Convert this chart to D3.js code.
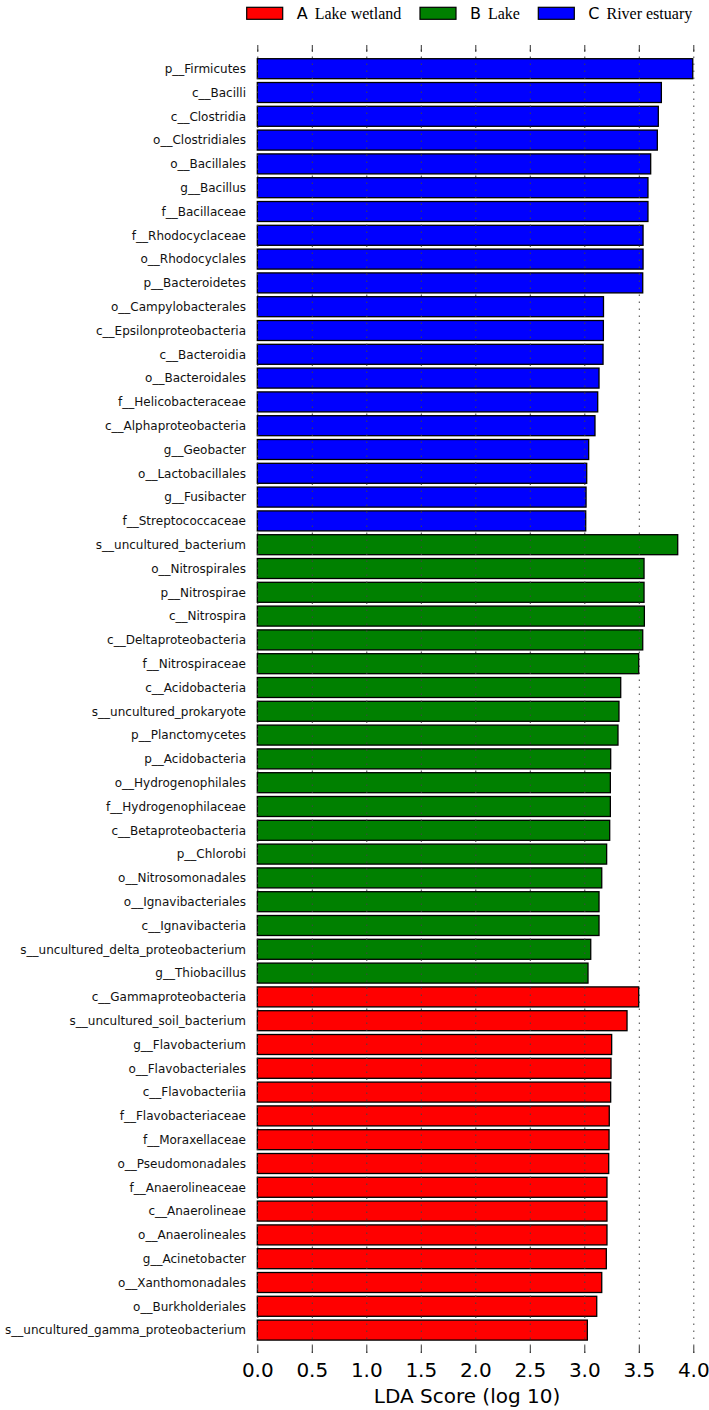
<!DOCTYPE html>
<html>
<head>
<meta charset="utf-8">
<script src="https://cdn.jsdelivr.net/npm/d3@7/dist/d3.min.js"></script>
<style>
  html, body { margin: 0; padding: 0; background: #fff; }
  svg { display: block; }
</style>
</head>
<body>
<div id="chart"></div>
<script>
// ---- data ----
const taxaC = ["p__Firmicutes","c__Bacilli","c__Clostridia","o__Clostridiales","o__Bacillales","g__Bacillus","f__Bacillaceae","f__Rhodocyclaceae","o__Rhodocyclales","p__Bacteroidetes","o__Campylobacterales","c__Epsilonproteobacteria","c__Bacteroidia","o__Bacteroidales","f__Helicobacteraceae","c__Alphaproteobacteria","g__Geobacter","o__Lactobacillales","g__Fusibacter","f__Streptococcaceae"];
const ldaC = [3.995,3.707,3.679,3.670,3.609,3.584,3.584,3.539,3.539,3.536,3.176,3.175,3.172,3.135,3.123,3.098,3.040,3.022,3.016,3.013];

const taxaB = ["s__uncultured_bacterium","o__Nitrospirales","p__Nitrospirae","c__Nitrospira","c__Deltaproteobacteria","f__Nitrospiraceae","c__Acidobacteria","s__uncultured_prokaryote","p__Planctomycetes","p__Acidobacteria","o__Hydrogenophilales","f__Hydrogenophilaceae","c__Betaproteobacteria","p__Chlorobi","o__Nitrosomonadales","o__Ignavibacteriales","c__Ignavibacteria","s__uncultured_delta_proteobacterium","g__Thiobacillus"];
const ldaB = [3.857,3.548,3.548,3.551,3.536,3.499,3.334,3.318,3.309,3.242,3.239,3.239,3.233,3.205,3.160,3.135,3.135,3.059,3.034];

const taxaA = ["c__Gammaproteobacteria","s__uncultured_soil_bacterium","g__Flavobacterium","o__Flavobacteriales","c__Flavobacteriia","f__Flavobacteriaceae","f__Moraxellaceae","o__Pseudomonadales","f__Anaerolineaceae","c__Anaerolineae","o__Anaerolineales","g__Acinetobacter","o__Xanthomonadales","o__Burkholderiales","s__uncultured_gamma_proteobacterium"];
const ldaA = [3.499,3.392,3.251,3.245,3.242,3.229,3.227,3.224,3.208,3.208,3.208,3.202,3.160,3.114,3.028];

const groupKeys = ["A","B","C"];
const groupNames = ["Lake wetland","Lake","River estuary"];
const groupColors = ["#ff0000","#008000","#0000ff"];
const xTicks = [0,0.5,1,1.5,2,2.5,3,3.5,4];

// ---- build rows (top to bottom: C, B, A) ----
const rows = [];
taxaC.forEach((t,i)=>rows.push({name:t, v:ldaC[i], g:"C"}));
taxaB.forEach((t,i)=>rows.push({name:t, v:ldaB[i], g:"B"}));
taxaA.forEach((t,i)=>rows.push({name:t, v:ldaA[i], g:"A"}));

const W = 709, H = 1410;
const svg = d3.select("#chart").append("svg").attr("width", W).attr("height", H);

const x = d3.scaleLinear().domain([0,4]).range([257.3, 693.3]);
const step = 23.8;
const yTop = 56.8;
const y = d3.scaleBand().domain(rows.map(d=>d.name))
  .range([yTop, yTop + rows.length*step]).paddingInner(0.16).paddingOuter(0.08);
const color = d3.scaleOrdinal().domain(groupKeys).range(groupColors);

const gridTop = 45, gridBottom = 1353;

// bars
svg.append("g").selectAll("rect").data(rows).join("rect")
  .attr("x", x(0))
  .attr("y", d=>y(d.name))
  .attr("width", d=>x(d.v)-x(0))
  .attr("height", y.bandwidth())
  .attr("fill", d=>color(d.g))
  .attr("stroke", "#000")
  .attr("stroke-width", 1.3);

// dotted grid lines (over bars)
const grid = svg.append("g").attr("transform", `translate(0,${gridBottom})`)
  .call(d3.axisBottom(x).tickValues(xTicks).tickSize(-(gridBottom-gridTop)).tickFormat(""));
grid.select(".domain").remove();
grid.selectAll(".tick line").attr("stroke","#444").attr("stroke-width",1).attr("stroke-dasharray","1.5,5.5");

// solid tick marks top and bottom
const topTicks = svg.append("g").attr("transform", `translate(0,${gridTop})`)
  .call(d3.axisTop(x).tickValues(xTicks).tickSize(-7).tickFormat(""));
topTicks.select(".domain").remove();
topTicks.selectAll(".tick line").attr("stroke","#333");

const botAxis = svg.append("g").attr("transform", `translate(0,${gridBottom})`)
  .call(d3.axisBottom(x).tickValues(xTicks).tickSize(-7).tickPadding(10).tickFormat(d3.format(".1f")));
botAxis.select(".domain").remove();
botAxis.selectAll(".tick line").attr("stroke","#333");
botAxis.selectAll(".tick text").attr("font-family","DejaVu Sans").attr("font-size",20).attr("fill","#000");

// axis title
svg.append("text").attr("x", 467).attr("y", 1403).attr("text-anchor","middle")
  .attr("font-family","DejaVu Sans").attr("font-size",20).attr("fill","#000")
  .text("LDA Score (log 10)");

// category labels
svg.append("g").selectAll("text").data(rows).join("text")
  .attr("x", 246)
  .attr("y", d=>y(d.name)+y.bandwidth()/2)
  .attr("dy","0.36em")
  .attr("text-anchor","end")
  .attr("font-family","DejaVu Sans").attr("font-size",12).attr("fill","#111")
  .text(d=>d.name);

// legend
const legX = [246.7, 420, 538.3];
const leg = svg.append("g");
groupKeys.forEach((k,i)=>{
  const g = leg.append("g").attr("transform", `translate(${legX[i]},7.3)`);
  g.append("rect").attr("width",36).attr("height",12).attr("fill",groupColors[i]).attr("stroke","#000").attr("stroke-width",1.2);
  const t = g.append("text").attr("x",50).attr("y",11.3).attr("font-size",16).attr("fill","#000");
  t.append("tspan").attr("font-family","DejaVu Sans").text(k);
  t.append("tspan").attr("font-family","Liberation Serif").attr("dx",7).text(groupNames[i]);
});
</script>
</body>
</html>
